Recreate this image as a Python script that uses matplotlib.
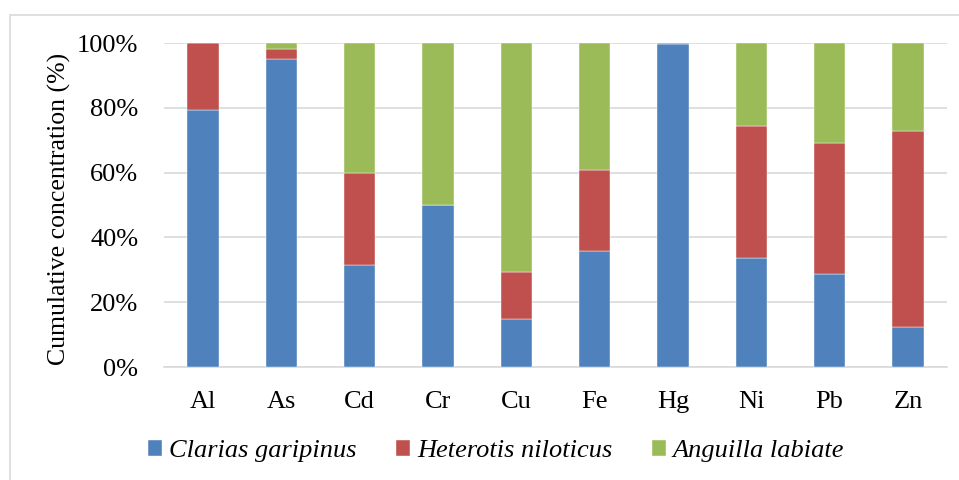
import matplotlib
matplotlib.use("Agg")
import matplotlib.pyplot as plt
from matplotlib.patches import Rectangle
from matplotlib.ticker import PercentFormatter

metals = ["Al", "As", "Cd", "Cr", "Cu", "Fe", "Hg", "Ni", "Pb", "Zn"]
clarias = [79.3, 95.0, 31.5, 50.0, 14.8, 35.8, 99.7, 33.6, 28.7, 12.3]
heterotis = [20.7, 3.0, 28.4, 0.0, 14.5, 25.0, 0.3, 40.8, 40.4, 60.5]
anguilla = [0.0, 2.0, 40.1, 50.0, 70.7, 39.2, 0.0, 25.6, 30.9, 27.2]
series_names = ["Clarias garipinus", "Heterotis niloticus", "Anguilla labiate"]
colors = ["#4F81BD", "#C0504D", "#9BBB59"]

plt.rcParams['font.family'] = ['Liberation Serif', 'DejaVu Serif']
FS = 19

fig = plt.figure(figsize=(9.59, 4.8), dpi=100)
# outer chart frame
fig.patches.append(Rectangle((10/959, -0.05), 1.0, 1 - 15/480 + 0.05, transform=fig.transFigure,
                             fill=False, edgecolor="#d9d9d9", linewidth=1.2))

ax = fig.add_axes([164/959, 1 - 367/480, (947 - 164)/959, (367 - 43)/480])
x = range(len(metals))
bottom2 = [a for a in clarias]
bottom3 = [a + b for a, b in zip(clarias, heterotis)]
ax.bar(x, clarias, width=0.4, color=colors[0], label=series_names[0], zorder=3,
       edgecolor="#ffffff", linewidth=0.3)
ax.bar(x, heterotis, width=0.4, bottom=bottom2, color=colors[1], label=series_names[1], zorder=3,
       edgecolor="#ffffff", linewidth=0.3)
ax.bar(x, anguilla, width=0.4, bottom=bottom3, color=colors[2], label=series_names[2], zorder=3,
       edgecolor="#ffffff", linewidth=0.3)

ax.set_xlim(-0.5, len(metals) - 0.5)
ax.set_ylim(0, 100)
ax.set_yticks([0, 20, 40, 60, 80, 100])
ax.yaxis.set_major_formatter(PercentFormatter(decimals=0))
ax.set_xticks(list(x))
ax.set_xticklabels(metals)
ax.grid(axis="y", color="#d9d9d9", linewidth=1.2, zorder=0)
for s in ["top", "right", "left"]:
    ax.spines[s].set_visible(False)
ax.spines["bottom"].set_color("#d9d9d9")
ax.spines["bottom"].set_linewidth(1.2)
ax.tick_params(axis="both", length=0, labelsize=FS, colors="#000000")
ax.tick_params(axis="x", pad=17)
ax.tick_params(axis="y", pad=18.5)
ax.set_ylabel("Cumulative concentration (%)", fontsize=18.5)
ax.yaxis.set_label_coords(-0.1185, 0.488)

leg = fig.legend(loc="center", bbox_to_anchor=(496/959, 1 - 451/480), ncol=3, frameon=False,
                 prop={"style": "italic", "size": FS}, handlelength=0.55, handleheight=0.55,
                 handletextpad=0.25, columnspacing=1.5)

fig.savefig("out.png", dpi=100)
